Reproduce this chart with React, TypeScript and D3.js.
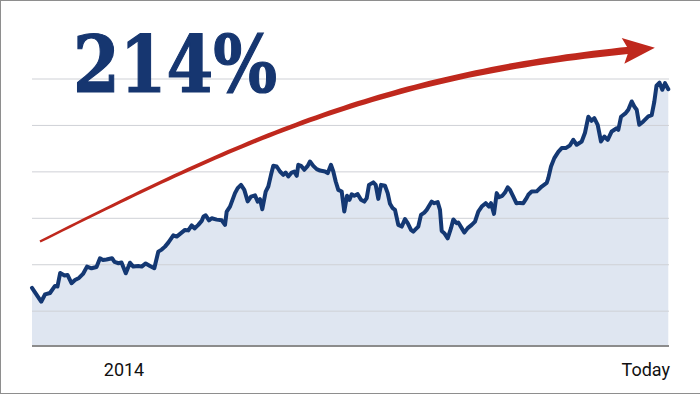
import React from 'react';
import * as d3 from 'd3';

// weeks since start of the period, and index level (start = 100)
const weeks = [
  0, 4.6, 6.5, 9, 11.5, 12.75, 14.1, 16.25, 17.75, 19.75, 21.5, 23.5, 25.5, 27.5, 29.75, 32.25, 34, 35.5, 37.25, 40,
  41.25, 43.25, 44.75, 46.9, 49, 50.65, 53.15, 54.85, 56.85, 59, 61.15, 63.15, 64.85, 66.5, 68.15, 70.65, 72.35, 74.5, 76.5, 78.15,
  79.85, 81.25, 83.15, 84.85, 85.75, 86.85, 88.5, 89.85, 92.35, 94.85, 96.5, 97.35, 99, 101.5, 102.85, 104.5, 106.15, 107.85, 109.5, 111.5,
  112.85, 114, 115.15, 116.85, 118.15, 119.5, 120.65, 122.35, 124, 125.65, 126.85, 128.15, 129.85, 131.15, 132.35, 133.15, 134.5, 136.15, 137.85, 139,
  140.65, 142.35, 144, 146.5, 147.85, 149.5, 150.65, 151.85, 153.15, 154.85, 156.15, 157.5, 158.75, 159.85, 161.15, 162.85, 164.5, 166.15, 167.35, 168.5,
  170.65, 171.85, 173.15, 174.5, 176.5, 177.85, 179, 180.35, 181.5, 183.15, 184.85, 186.5, 187.85, 189.5, 190.65, 191.85, 193.15, 194.5, 196.15, 197.35,
  199.85, 201.15, 202.85, 204, 204.85, 206.15, 207.85, 209.5, 210.65, 212.35, 213.15, 214.85, 216.15, 217.85, 219.85, 221.5, 223.15, 224.85, 226.85, 228.5,
  229.5, 231, 232.35, 233.5, 235.15, 236.5, 237.85, 239, 240.65, 242.25, 244, 245.65, 247.35, 248.15, 249.85, 252.35, 254.85, 257.35, 258.15, 259.5,
  261.15, 263.15, 264.85, 266.85, 269, 270.65, 272.35, 274.85, 276.5, 278.15, 279.75, 281.15, 282.85, 284.5, 286.15, 287.85, 289.85, 292.35, 293.15, 294.5,
  296.85, 298.15, 299.85, 301.15, 302.35, 303.65, 305.65, 308.15, 309.85, 311.15, 312.25, 313.75, 315.15, 316.5, 318.15,
];
const values = [
  100, 85.2, 93, 94.6, 102.2, 101.6, 116.2, 113.5, 114, 105.1, 108.6, 110.8, 115.1, 123, 121.2, 122.6, 132, 130.2, 130.7, 132,
  128, 126.6, 127.5, 115.8, 127.2, 123, 123.7, 123, 126.4, 123.7, 121.2, 139.1, 141.3, 144.5, 148.8, 156.6, 155.3, 159, 162.5, 162,
  167.4, 164.1, 167.9, 172.2, 176.9, 178.2, 172.8, 175.1, 173.6, 172.8, 167.9, 182.3, 187.6, 202.1, 207.5, 211, 205.6, 193.2, 198.4, 199.7,
  193, 195.6, 184.8, 203.8, 209.2, 221.8, 231.5, 230.8, 225.4, 221.8, 224.3, 220, 224.3, 225.4, 220.7, 232.6, 231.5, 227.2, 231.5, 236.2,
  231.5, 228, 226.4, 225.4, 223.6, 232.6, 225.4, 214.6, 205.6, 203.8, 182.3, 199.2, 194.9, 200.8, 199.2, 201, 194.9, 193, 196.7, 211,
  213.7, 211, 195.9, 211, 210, 202.1, 190.6, 185.9, 184.1, 167.9, 166.1, 174.1, 169.7, 162.5, 160.7, 163.3, 166.1, 178.7, 181.2, 184.1,
  193, 191.3, 192.4, 184.1, 161.4, 159, 153.4, 164.4, 173.8, 169.7, 170.4, 164.4, 159.6, 164.4, 167.9, 171.5, 182.3, 187.6, 191.3, 187.6,
  191.3, 179.8, 202.1, 197.8, 199.2, 202.7, 208.3, 205.6, 198.4, 191.1, 191.6, 191.3, 197, 200.3, 203.8, 204, 209.2, 213.2, 218.3, 230.8,
  239.8, 246.6, 250.6, 250.6, 253.6, 259.5, 254.2, 257.7, 267.1, 284.3, 280, 282.9, 275.7, 257.7, 263.1, 259.5, 268.5, 271.9, 270.3, 284.3,
  288.3, 291.9, 300.8, 295.4, 291.9, 275.7, 279.3, 284.7, 286, 300.5, 317.8, 321, 313.4, 320.5, 314,
];

const gridValues = [75, 125, 175, 225, 275, 325];
const tickWeeks = [46, 318.5];
const tickLabels = ['2014', 'Today'];
const headline = '214%';

// growth arrow, as a cubic curve in (week, level) space
const arrowWeeks = [4, 104, 174, 299];
const arrowValues = [150, 258, 329, 356];

const W = 700;
const H = 394;

function GrowthArrow({ x, y }: { x: (v: number) => number; y: (v: number) => number }) {
  const P = arrowWeeks.map((w, i) => [x(w), y(arrowValues[i])]);
  const bez = (t: number) => {
    const a = (1 - t) ** 3, b = 3 * (1 - t) ** 2 * t, c = 3 * (1 - t) * t * t, d = t ** 3;
    return [0, 1].map(k => a * P[0][k] + b * P[1][k] + c * P[2][k] + d * P[3][k]);
  };
  const der = (t: number) => {
    const a = 3 * (1 - t) ** 2, b = 6 * (1 - t) * t, c = 3 * t * t;
    return [0, 1].map(k => a * (P[1][k] - P[0][k]) + b * (P[2][k] - P[1][k]) + c * (P[3][k] - P[2][k]));
  };
  const left: number[][] = [];
  const right: number[][] = [];
  const n = 80;
  for (let i = 0; i <= n; i++) {
    const t = i / n;
    const p = bez(t);
    const d = der(t);
    const len = Math.hypot(d[0], d[1]);
    const nx = -d[1] / len, ny = d[0] / len;
    const w = (2.4 + 4.8 * t) / 2;
    left.push([p[0] + nx * w, p[1] + ny * w]);
    right.push([p[0] - nx * w, p[1] - ny * w]);
  }
  const shaft = 'M' + left.concat(right.reverse()).map(p => p.join(',')).join('L') + 'Z';

  const end = P[3];
  const d = der(1);
  const len = Math.hypot(d[0], d[1]);
  const ux = d[0] / len, uy = d[1] / len;
  const nx = -uy, ny = ux;
  const tip = [end[0] + ux * 25, end[1] + uy * 25];
  const w1 = [end[0] - ux * 7 + nx * 13, end[1] - uy * 7 + ny * 13];
  const w2 = [end[0] - ux * 7 - nx * 13, end[1] - uy * 7 - ny * 13];
  const notch = [end[0] - ux * 1, end[1] - uy * 1];
  const head = 'M' + [w1, tip, w2, notch].map(p => p.join(',')).join('L') + 'Z';

  return (
    <g fill="#bf281d">
      <path d={shaft} />
      <path d={head} />
    </g>
  );
}

export default function App() {
  const x = d3.scaleLinear().domain([0, 318.5]).range([32, 669]);
  const y = d3.scaleLinear().domain([37.5, 325]).range([346, 79]);
  const pts: [number, number][] = weeks.map((w, i) => [w, values[i]]);

  const line = d3.line<[number, number]>().x(d => x(d[0])).y(d => y(d[1]));
  const area = d3.area<[number, number]>().x(d => x(d[0])).y0(y(37.5)).y1(d => y(d[1]));

  return (
    <svg width={W} height={H} style={{ position: 'absolute', left: 0, top: 0, background: '#fff' }}>
      <path d={area(pts) || ''} fill="#dfe6f1" />
      {gridValues.map(v => (
        <line key={v} x1={x(0)} x2={x(318.5)} y1={y(v)} y2={y(v)} stroke="#cfd1d6" strokeWidth={1} />
      ))}
      <line x1={x(0)} x2={x(318.5)} y1={y(37.5)} y2={y(37.5)} stroke="#8c8c8c" strokeWidth={2} />
      <path d={line(pts) || ''} fill="none" stroke="#143873" strokeWidth={4}
            strokeLinejoin="round" strokeLinecap="round" />
      <GrowthArrow x={x} y={y} />
      <text x={73} y={92} fontFamily="'DejaVu Serif', serif" fontWeight="bold" fontSize={78}
            fill="#163670" stroke="#163670" strokeWidth={1.2} textLength={204}
            lengthAdjust="spacingAndGlyphs">{headline}</text>
      {tickWeeks.map((w, i) => (
        <text key={i} x={i === 0 ? x(w) : x(w) + 1} y={376} fontFamily="Roboto, sans-serif" fontSize={18}
              fill="#111" textAnchor={i === 0 ? 'middle' : 'end'}>{tickLabels[i]}</text>
      ))}
      <line x1={0} x2={W} y1={0.5} y2={0.5} stroke="#8e8e8e" />
      <line x1={0.5} x2={0.5} y1={0} y2={H} stroke="#8e8e8e" />
      <line x1={0} x2={W} y1={H - 0.5} y2={H - 0.5} stroke="#8e8e8e" />
    </svg>
  );
}
